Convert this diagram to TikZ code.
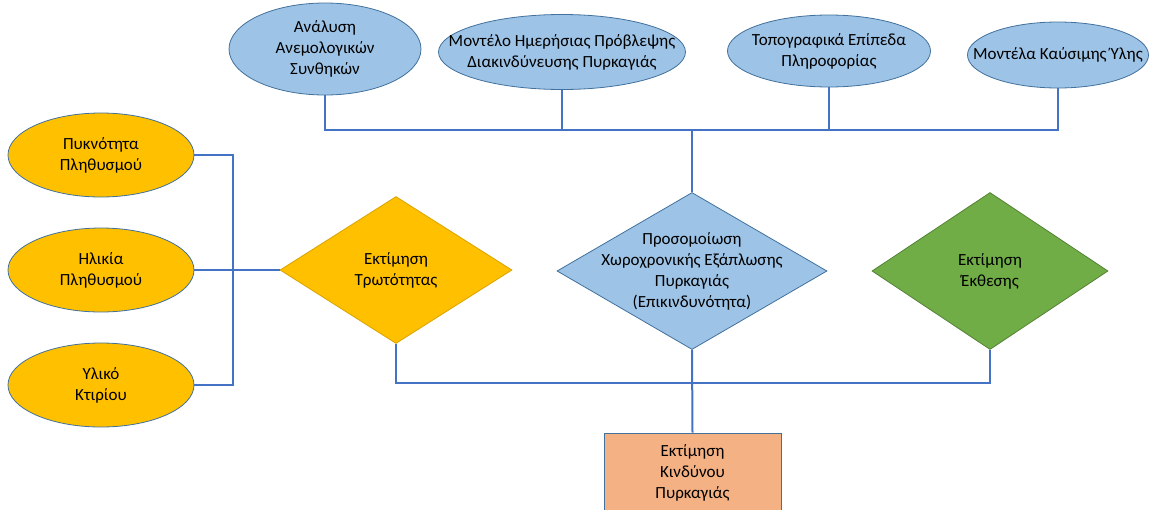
\documentclass[tikz,border=0pt]{standalone}
\usepackage{fontspec}
\setmainfont{Carlito}
\usetikzlibrary{shapes.geometric}
\definecolor{boxblue}{HTML}{9DC3E6}
\definecolor{boxyellow}{HTML}{FFC000}
\definecolor{boxgreen}{HTML}{70AD47}
\definecolor{boxorange}{HTML}{F4B183}
\definecolor{edgeblue}{HTML}{41719C}
\definecolor{lineblue}{HTML}{4472C4}
\begin{document}
\begin{tikzpicture}[x=1pt,y=-1pt,
    every node/.style={font=\fontsize{17}{21}\selectfont, align=center, inner sep=0pt},
    ell/.style={ellipse, draw=edgeblue, line width=0.8pt, inner xsep=-30pt, inner ysep=-12pt},
    blueell/.style={ell, fill=boxblue},
    yellell/.style={ell, fill=boxyellow, minimum width=186pt, minimum height=84pt},
    diam/.style={diamond, draw=edgeblue, line width=0.8pt, inner sep=-40pt},
    conn/.style={draw=lineblue, line width=2pt}]
        \useasboundingbox (0,0) rectangle (1154,509);
        %
        \node [blueell, minimum width=192pt, minimum height=92pt] (anal) at (325,49) {Ανάλυση\\Ανεμολογικών\\Συνθηκών};
        \node [blueell, minimum width=247pt, minimum height=75pt] (montelo) at (562,52) {Μοντέλο Ημερήσιας Πρόβλεψης\\Διακινδύνευσης Πυρκαγιάς};
        \node [blueell, minimum width=203pt, minimum height=72pt] (topo) at (829,51) {Τοπογραφικά Επίπεδα\\Πληροφορίας};
        \node [blueell, minimum width=181pt, minimum height=66pt] (kaysimh) at (1058,55) {Μοντέλα Καύσιμης Ύλης};
        %
        \node [yellell] (pykn) at (101,155) {Πυκνότητα\\Πληθυσμού};
        \node [yellell] (hlikia) at (101,270) {Ηλικία\\Πληθυσμού};
        \node [yellell] (yliko) at (101,385) {Υλικό\\Κτιρίου};
        %
        \node [diam, fill=boxyellow, draw=boxyellow!85!black, minimum width=232pt, minimum height=147pt] (trwt) at (396,270) {Εκτίμηση\\Τρωτότητας};
        \node [diam, fill=boxblue, minimum width=270pt, minimum height=157pt] (prosom) at (692,271) {Προσομοίωση\\Χωροχρονικής Εξάπλωσης\\Πυρκαγιάς\\(Επικινδυνότητα)};
        \node [diam, fill=boxgreen, draw=boxgreen!75!black, minimum width=236pt, minimum height=157pt] (ekth) at (990,271) {Εκτίμηση\\Έκθεσης};
        %
        \node [rectangle, draw=edgeblue, line width=0.8pt, fill=boxorange, minimum width=177pt, minimum height=80pt] (kindyn) at (692.5,473) {Εκτίμηση\\Κινδύνου\\Πυρκαγιάς};
        %
        \coordinate (bus) at (692,130);
        \coordinate (lbus) at (233,270);
        \coordinate (bbus) at (692,383);
        %
        \draw [conn] (anal.south) |- (bus) -| (kaysimh.south);
        \draw [conn] (montelo.south) -- (montelo.south |- bus);
        \draw [conn] (topo.south) -- (topo.south |- bus);
        \draw [conn] (bus) -- (prosom.north);
        %
        \draw [conn] (pykn.east) -| (lbus) |- (yliko.east);
        \draw [conn] (hlikia.east) -- (trwt.west);
        %
        \draw [conn] (trwt.south) |- (bbus) -| (ekth.south);
        \draw [conn] (prosom.south) -- (kindyn.north);
      \end{tikzpicture}
\end{document}
